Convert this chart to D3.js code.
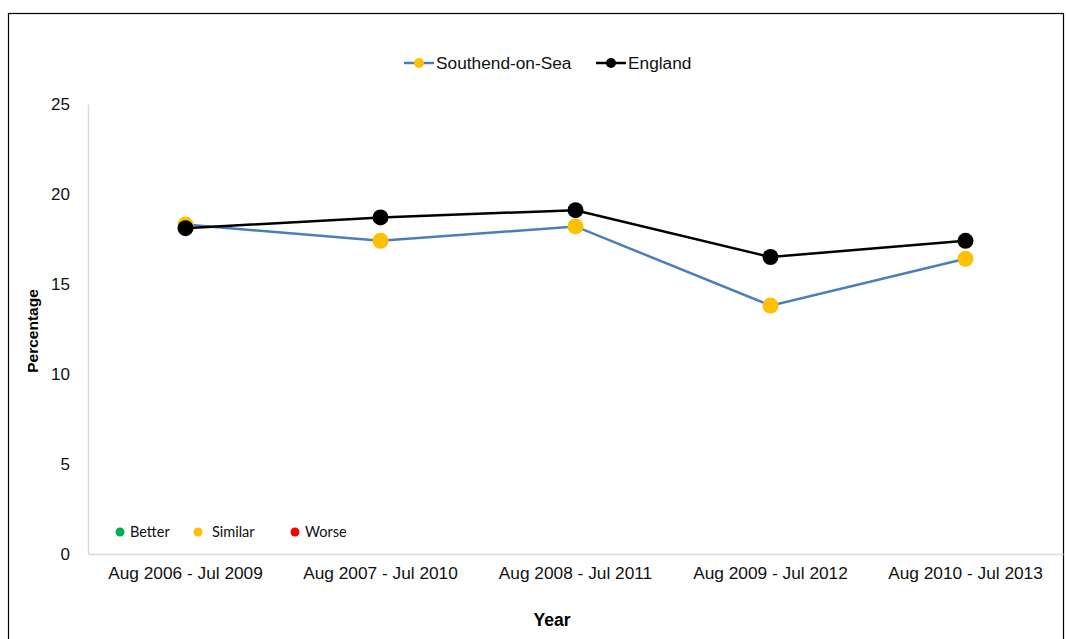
<!DOCTYPE html>
<html>
<head>
<meta charset="utf-8">
<script src="https://cdn.jsdelivr.net/npm/d3@7"></script>
<style>
  body { margin: 0; background: #fff; }
  svg { display: block; font-family: 'Liberation Sans', Arial, sans-serif; }
</style>
</head>
<body>
<svg id="chart" width="1066" height="639"></svg>
<script>
// chart data
const periods = ['Aug 2006 - Jul 2009', 'Aug 2007 - Jul 2010', 'Aug 2008 - Jul 2011', 'Aug 2009 - Jul 2012', 'Aug 2010 - Jul 2013']
const southend = [18.3, 17.4, 18.2, 13.8, 16.4]
const england = [18.1, 18.7, 19.1, 16.5, 17.4]
const yTicks = [0, 5, 10, 15, 20, 25]
const keyLabels = ['Better', 'Similar', 'Worse']
const keyColours = ['#00b050', '#ffc000', '#ff0000']

let svg = d3.select('#chart')
let margin = {top: 104, right: 3, bottom: 85, left: 88}
let width = 1066 - margin.left - margin.right
let height = 639 - margin.top - margin.bottom

// outer frame
svg.append('rect')
  .attr('x', 8.5).attr('y', 13.5)
  .attr('width', 1055).attr('height', 640)
  .attr('fill', 'none').attr('stroke', '#000').attr('stroke-width', 1.2)

let x = d3.scaleBand().domain(periods).range([0, width])
let y = d3.scaleLinear().domain([0, 25]).range([height, 0])

let g = svg.append('g').attr('transform', 'translate(' + margin.left + ',' + margin.top + ')')

// y axis
let yAxis = g.append('g').call(d3.axisLeft(y).tickValues(yTicks).tickSize(0).tickPadding(18))
yAxis.select('.domain').attr('stroke', '#d9d9d9').attr('stroke-width', 1.5)
yAxis.selectAll('text').attr('font-size', 17).attr('fill', '#111')
  .attr('font-family', 'Liberation Sans, Arial, sans-serif')

// x axis
let xAxis = g.append('g').attr('transform', 'translate(0,' + height + ')')
  .call(d3.axisBottom(x).tickSize(0).tickPadding(13))
xAxis.select('.domain').attr('stroke', '#d9d9d9').attr('stroke-width', 1.5)
xAxis.selectAll('text').attr('font-size', 17.3).attr('fill', '#111')
  .attr('font-family', 'Liberation Sans, Arial, sans-serif')

// axis titles
svg.append('text')
  .attr('transform', 'translate(38,331) rotate(-90)')
  .attr('text-anchor', 'middle')
  .attr('font-size', 15.5).attr('font-weight', 'bold')
  .text('Percentage')
svg.append('text')
  .attr('x', 552).attr('y', 626)
  .attr('text-anchor', 'middle')
  .attr('font-size', 17.5).attr('font-weight', 'bold')
  .text('Year')

let cx = (d, i) => x(periods[i]) + x.bandwidth() / 2
let line = d3.line().x(cx).y((d) => y(d))

// series
let series = [
  {name: 'Southend-on-Sea', values: southend, stroke: '#4a7ebb', fill: '#ffc000'},
  {name: 'England', values: england, stroke: '#000', fill: '#000'}
]

series.forEach(function (s) {
  g.append('path').datum(s.values)
    .attr('fill', 'none')
    .attr('stroke', s.stroke)
    .attr('stroke-width', 2.5)
    .attr('d', line)
  g.selectAll(null).data(s.values).enter().append('circle')
    .attr('cx', cx)
    .attr('cy', (d) => y(d))
    .attr('r', 8)
    .attr('fill', s.fill)
})

// top legend
let legend = svg.append('g')
let lx = [404, 596]
series.forEach(function (s, i) {
  let lg = legend.append('g').attr('transform', 'translate(' + lx[i] + ',63)')
  lg.append('line').attr('x1', 0).attr('x2', 30).attr('y1', 0).attr('y2', 0)
    .attr('stroke', s.stroke).attr('stroke-width', 2.5)
  lg.append('circle').attr('cx', 15).attr('cy', 0).attr('r', 5).attr('fill', s.fill)
  lg.append('text').attr('x', 32).attr('y', 6)
    .attr('font-size', 17.3).attr('fill', '#111').text(s.name)
})

// significance key
let kx = [120, 198, 295]
let kt = [10, 14, 10]
keyLabels.forEach(function (k, i) {
  let kg = svg.append('g').attr('transform', 'translate(' + kx[i] + ',532)')
  kg.append('circle').attr('r', 4.5).attr('fill', keyColours[i])
  kg.append('text').attr('x', kt[i]).attr('y', 5)
    .attr('font-family', 'Lato, Carlito, sans-serif')
    .attr('font-size', 14.5).attr('fill', '#111').text(k)
})
</script>
</body>
</html>
